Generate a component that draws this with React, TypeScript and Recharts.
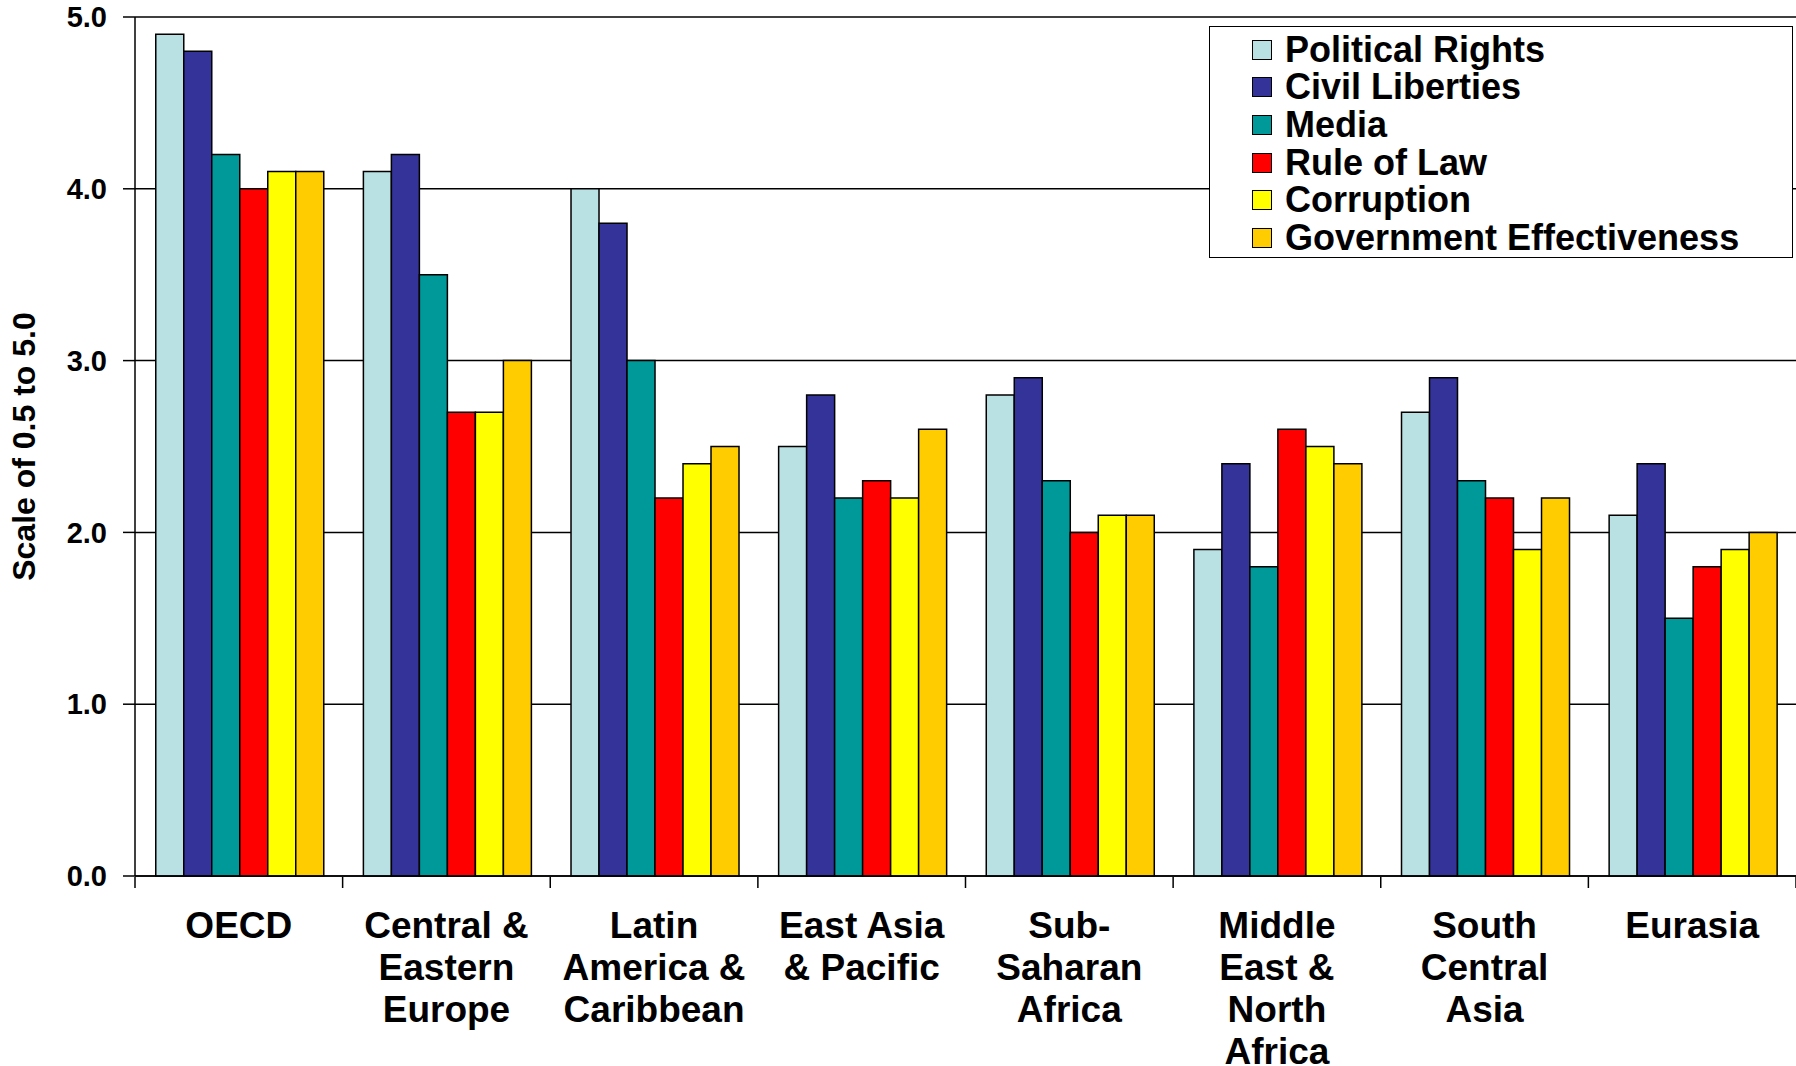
import { BarChart, Bar, XAxis, YAxis, CartesianGrid, Legend } from 'recharts';

const FONT = '"Liberation Sans", Arial, sans-serif';

// regions, with line breaks as they wrap under the axis
const categories = [
  'OECD',
  'Central &\nEastern\nEurope',
  'Latin\nAmerica &\nCaribbean',
  'East Asia\n& Pacific',
  'Sub-\nSaharan\nAfrica',
  'Middle\nEast &\nNorth\nAfrica',
  'South\nCentral\nAsia',
  'Eurasia',
];

const politicalRights = [4.9, 4.1, 4.0, 2.5, 2.8, 1.9, 2.7, 2.1];
const civilLiberties = [4.8, 4.2, 3.8, 2.8, 2.9, 2.4, 2.9, 2.4];
const media = [4.2, 3.5, 3.0, 2.2, 2.3, 1.8, 2.3, 1.5];
const ruleOfLaw = [4.0, 2.7, 2.2, 2.3, 2.0, 2.6, 2.2, 1.8];
const corruption = [4.1, 2.7, 2.4, 2.2, 2.1, 2.5, 1.9, 1.9];
const govEffectiveness = [4.1, 3.0, 2.5, 2.6, 2.1, 2.4, 2.2, 2.0];

const yTicks = [0, 1, 2, 3, 4, 5];
const boundaryTicks = [0, 1, 2, 3, 4, 5, 6, 7, 8];

const series = [
  { key: 'pr', name: 'Political Rights', color: '#B9E0E3', values: politicalRights },
  { key: 'cl', name: 'Civil Liberties', color: '#333399', values: civilLiberties },
  { key: 'media', name: 'Media', color: '#009999', values: media },
  { key: 'rol', name: 'Rule of Law', color: '#FF0000', values: ruleOfLaw },
  { key: 'corr', name: 'Corruption', color: '#FFFF00', values: corruption },
  { key: 'ge', name: 'Government Effectiveness', color: '#FFCC00', values: govEffectiveness },
];

const data = categories.map((region, i) => {
  const row: Record<string, string | number> = { region, idx: i + 0.5 };
  series.forEach((s) => {
    row[s.key] = s.values[i];
  });
  return row;
});

function CategoryTick({ x, y, payload }: any) {
  const lines = String(payload.value).split('\n');
  return (
    <text
      x={x}
      y={y}
      textAnchor="middle"
      fill="#000"
      style={{ fontFamily: FONT, fontWeight: 700, fontSize: 37 }}
    >
      {lines.map((line, i) => (
        <tspan key={i} x={x} dy={i === 0 ? 61.5 : 42.3}>
          {line}
        </tspan>
      ))}
    </text>
  );
}

function AxisTitle({ viewBox }: any) {
  const cx = viewBox.x + 24;
  const cy = viewBox.y + viewBox.height / 2;
  return (
    <text
      x={cx}
      y={cy}
      transform={`rotate(-90, ${cx}, ${cy})`}
      textAnchor="middle"
      dominantBaseline="central"
      fill="#000"
      style={{ fontFamily: FONT, fontWeight: 700, fontSize: 32 }}
    >
      Scale of 0.5 to 5.0
    </text>
  );
}

// keep the legend in series order (recharts sorts it by name otherwise)
function LegendBox({ payload }: any) {
  const order = series.map((s) => s.name);
  const items = [...(payload || [])].sort((a: any, b: any) => order.indexOf(a.value) - order.indexOf(b.value));
  return (
    <div
      style={{
        border: '1.5px solid #000',
        background: '#fff',
        width: 584,
        height: 232,
        boxSizing: 'border-box',
        padding: '4px 0 0 42px',
        fontFamily: FONT,
        fontWeight: 700,
        fontSize: 36,
        color: '#000',
      }}
    >
      {items.map((p: any) => (
        <div key={p.value} style={{ display: 'flex', alignItems: 'center', height: 37.6, whiteSpace: 'nowrap' }}>
          <span
            style={{
              display: 'inline-block',
              flex: 'none',
              width: 20,
              height: 20,
              background: p.color,
              border: '1.5px solid #000',
              boxSizing: 'border-box',
              marginRight: 13,
            }}
          />
          {p.value}
        </div>
      ))}
    </div>
  );
}

export default function App() {
  return (
    <div style={{ position: 'absolute', left: 0, top: 0, background: '#fff' }}>
      <BarChart
        width={1796}
        height={1066}
        data={data}
        margin={{ top: 17, right: 0, bottom: 188, left: 0 }}
        barCategoryGap="10%"
        barGap={0}
      >
        <CartesianGrid vertical={false} stroke="#000" strokeWidth={1.5} />
        {/* both x axes are 1px tall so they sit on (almost) the same baseline */}
        <XAxis
          dataKey="region"
          interval={0}
          tick={<CategoryTick />}
          tickLine={false}
          tickSize={0}
          tickMargin={0}
          axisLine={{ stroke: '#000', strokeWidth: 1.5 }}
          height={1}
        />
        <XAxis
          xAxisId="edges"
          type="number"
          dataKey="idx"
          domain={[0, 8]}
          ticks={boundaryTicks}
          tickFormatter={() => ''}
          tickSize={11}
          tickLine={{ stroke: '#000', strokeWidth: 1.5 }}
          axisLine={false}
          height={1}
        />
        <YAxis
          domain={[0, 5]}
          ticks={yTicks}
          width={135}
          tickSize={12}
          tickMargin={16}
          tickFormatter={(v: number) => v.toFixed(1)}
          tick={{ fill: '#000', fontSize: 29, fontWeight: 700, fontFamily: FONT }}
          tickLine={{ stroke: '#000', strokeWidth: 1.5 }}
          axisLine={{ stroke: '#000', strokeWidth: 1.5 }}
          label={<AxisTitle />}
        />
        <Legend
          layout="vertical"
          align="center"
          verticalAlign="middle"
          wrapperStyle={{ left: 1209, top: 26, width: 584 }}
          content={<LegendBox />}
        />
        {series.map((s) => (
          <Bar
            key={s.key}
            dataKey={s.key}
            name={s.name}
            fill={s.color}
            stroke="#000"
            strokeWidth={1.5}
            isAnimationActive={false}
          />
        ))}
      </BarChart>
    </div>
  );
}
